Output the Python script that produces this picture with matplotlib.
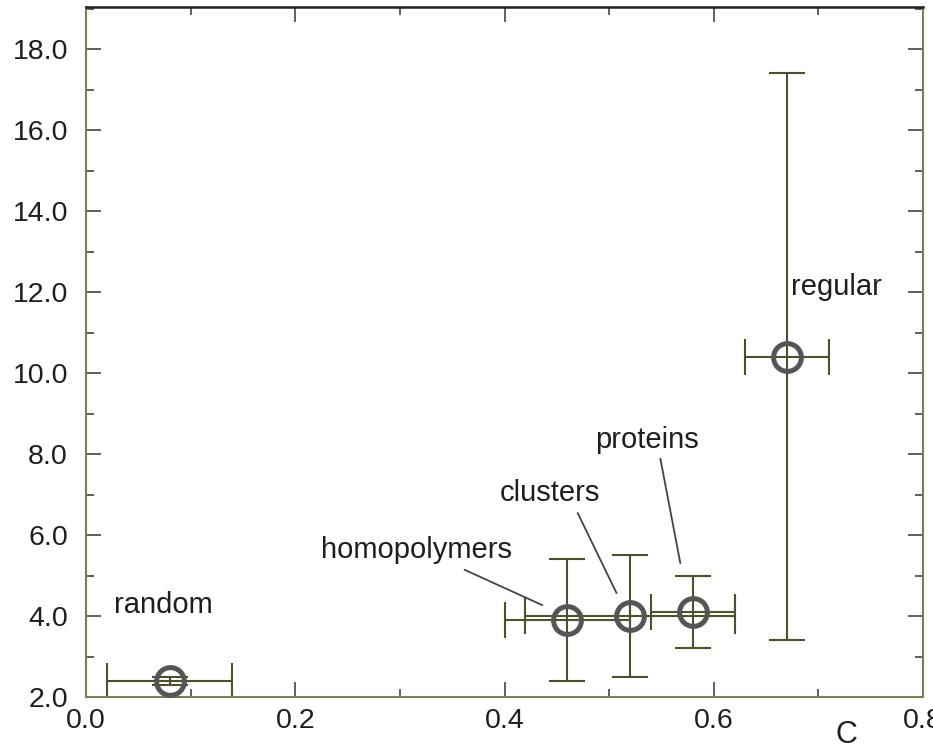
import matplotlib
matplotlib.use("Agg")
import matplotlib.pyplot as plt
from matplotlib.ticker import MultipleLocator, FormatStrFormatter

# data
names = ["random", "homopolymers", "clusters", "proteins", "regular"]
c_vals = [0.08, 0.46, 0.52, 0.58, 0.67]
c_err = [0.06, 0.06, 0.10, 0.04, 0.04]
y_vals = [2.4, 3.9, 4.0, 4.1, 10.4]
y_err = [0.1, 1.5, 1.5, 0.9, 7.0]

# label placement (data coords, left/center anchored)
label_pos = [(0.027, 4.27), (0.225, 5.63), (0.395, 7.04), (0.487, 8.35), (0.674, 12.12)]
# leader lines from label to point: (x0, y0, x1, y1), None = no line
leaders = [None,
           (0.362, 5.14, 0.436, 4.27),
           (0.470, 6.54, 0.507, 4.57),
           (0.549, 7.88, 0.568, 5.31),
           None]

plt.rcParams['font.family'] = ['Liberation Sans', 'DejaVu Sans']

fig = plt.figure(figsize=(9.33, 7.55), dpi=100)
ax = fig.add_axes([0.0922, 0.0768, 0.8971, 0.9139])

bar_col = '#4f4f30'
ax.errorbar(c_vals, y_vals, xerr=c_err, yerr=y_err, fmt='none',
            ecolor=bar_col, elinewidth=1.5, capsize=13, capthick=1.5, zorder=2)
ax.plot(c_vals, y_vals, 'o', ms=20, mfc='none', mec='#555555', mew=3.6, zorder=3)

for name, (lx, ly), ld in zip(names, label_pos, leaders):
    ax.text(lx, ly, name, fontsize=21, ha='left', va='center', color='#1e1e1e')
    if ld is not None:
        ax.plot([ld[0], ld[2]], [ld[1], ld[3]], color='#444444', lw=1.3)

ax.set_xlim(0, 0.8)
ax.set_ylim(2.0, 19.04)
ax.xaxis.set_major_locator(MultipleLocator(0.2))
ax.xaxis.set_minor_locator(MultipleLocator(0.1))
ax.yaxis.set_major_locator(MultipleLocator(2.0))
ax.yaxis.set_minor_locator(MultipleLocator(1.0))
ax.xaxis.set_major_formatter(FormatStrFormatter('%.1f'))
ax.yaxis.set_major_formatter(FormatStrFormatter('%.1f'))

ax.tick_params(which='both', direction='in', top=True, right=True,
               color='#444444', labelsize=20.5, labelcolor='#1e1e1e', width=1.2)
ax.tick_params(which='major', length=11)
ax.tick_params(which='minor', length=6)
ax.tick_params(axis='y', pad=13)
ax.tick_params(axis='x', pad=8)

for side in ['left', 'bottom', 'right']:
    ax.spines[side].set_color('#7d7d55')
    ax.spines[side].set_linewidth(1.5)
ax.spines['top'].set_color('#222222')
ax.spines['top'].set_linewidth(1.8)

ax.set_xlabel('C', fontsize=22, color='#1e1e1e')
ax.xaxis.set_label_coords(0.909, -0.034)

fig.savefig('out.png', dpi=100)
